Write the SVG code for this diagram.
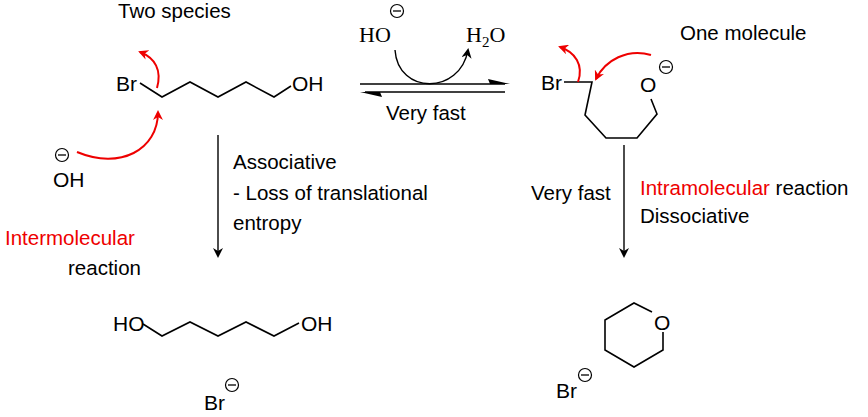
<svg xmlns="http://www.w3.org/2000/svg" width="868" height="417" viewBox="0 0 868 417">
<defs>
<style>
.t{font-family:"Liberation Sans",Arial,sans-serif;font-size:20.5px;fill:#000}
.c{font-family:"Liberation Sans",Arial,sans-serif;font-size:21px;fill:#000}
.s{font-family:"Liberation Serif",serif;font-size:22px;fill:#000}
.r{fill:#e00}
.b{fill:none;stroke:#000;stroke-width:1.6;stroke-linejoin:miter}
.ra{fill:none;stroke:#e00;stroke-width:2}
.ar{fill:none;stroke:#000;stroke-width:1.4}
.m{fill:none;stroke:#000;stroke-width:1.2}
</style>
<marker id="rh" markerWidth="10" markerHeight="10" refX="8" refY="5" orient="auto" markerUnits="userSpaceOnUse"><path d="M0,0 L10,5 L0,10 L3,5 Z" fill="#e00"/></marker>
<marker id="kh" markerWidth="10" markerHeight="10" refX="8" refY="5" orient="auto" markerUnits="userSpaceOnUse"><path d="M0,0 L10,5 L0,10 L3,5 Z" fill="#000"/></marker>
<g id="minus"><circle r="6.5" class="m"/><line x1="-4" y1="0" x2="4" y2="0" stroke="#000" stroke-width="1.3"/></g>
</defs>
<rect width="868" height="417" fill="#fff"/>
<text class="t" x="118" y="18">Two species</text>
<g id="bromohexanol">
<text class="c" x="116" y="91">Br</text>
<polyline class="b" points="140,83 162,97 190,82 218,97 246,82 274,97 291,86"/>
<text class="c" x="292" y="91">OH</text>
</g>
<g id="hydroxide"><use href="#minus" x="62" y="155"/><text class="c" x="53" y="187">OH</text></g>
<g id="reagents">
<text class="s" x="359" y="42">HO</text><use href="#minus" x="397" y="11"/>
<text class="s" x="466" y="42">H<tspan font-size="15" dy="5">2</tspan><tspan dy="-5">O</tspan></text>
</g>
<g id="alkoxide">
<text class="c" x="541" y="90">Br</text>
<polyline class="b" points="564,82 592,82 585,115 606,138 637,138 657,114 651,99"/>
<text class="c" x="640" y="92">O</text><use href="#minus" x="666" y="67"/>
</g>
<g id="pentanediol">
<text class="c" x="113" y="331">HO</text>
<polyline class="b" points="143,324 162,336 190,322 218,336 246,322 274,336 299,323"/>
<text class="c" x="301" y="331">OH</text>
<text class="c" x="204" y="410">Br</text><use href="#minus" x="232" y="385"/>
</g>
<g id="thp">
<polyline class="b" points="652,312 634,303 605,320 605,350 634,367 663,350 663,332"/>
<text class="c" x="654" y="330">O</text>
<text class="c" x="556" y="398">Br</text><use href="#minus" x="585" y="375"/>
</g>
<g id="labels">
<text class="t" x="233" y="169">Associative</text>
<text class="t" x="233" y="200">- Loss of translational</text>
<text class="t" x="233" y="230">entropy</text>
<text class="t r" x="5" y="245">Intermolecular</text>
<text class="t" x="68" y="275">reaction</text>
<text class="t" x="386" y="120">Very fast</text>
<text class="t" x="531" y="200">Very fast</text>
<text class="t" x="640" y="195"><tspan class="r">Intramolecular</tspan> reaction</text>
<text class="t" x="640" y="223">Dissociative</text>
<text class="t" x="680" y="40">One molecule</text>
</g>
<g id="connectors">
<line x1="360" y1="84" x2="505" y2="84" stroke="#000" stroke-width="1.6"/>
<path d="M510,84 L488,79 L490,84 Z" fill="#000"/>
<line x1="365" y1="92" x2="505" y2="92" stroke="#000" stroke-width="1.6"/>
<path d="M360,92 L382,97 L380,92 Z" fill="#000"/>
<line class="ar" x1="218" y1="135" x2="218" y2="256" marker-end="url(#kh)"/>
<line class="ar" x1="624" y1="145" x2="624" y2="256" marker-end="url(#kh)"/>
<path class="ar" d="M395,50 C398,95 460,95 468,50" marker-end="url(#kh)"/>
<path class="ra" d="M157,88 C162,70 155,58 140,52" marker-end="url(#rh)"/>
<path class="ra" d="M77,152 C120,170 158,150 158,112" marker-end="url(#rh)"/>
<path class="ra" d="M578,82 C584,65 575,52 560,47" marker-end="url(#rh)"/>
<path class="ra" d="M651,55 C628,48 605,60 596,79" marker-end="url(#rh)"/>
</g>
</svg>
